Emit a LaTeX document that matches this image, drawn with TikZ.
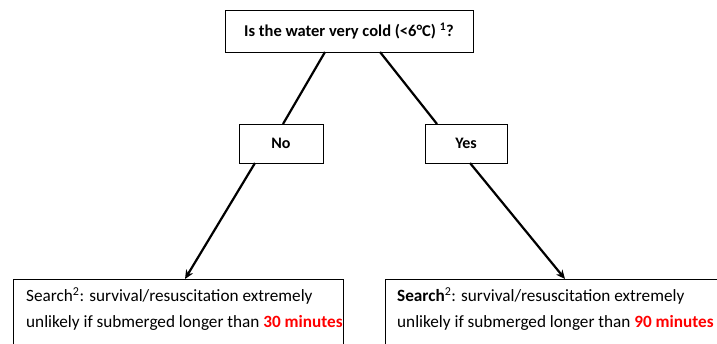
\documentclass[tikz,border=0pt]{standalone}
\usepackage{fontspec}
\setmainfont{Carlito}
\usetikzlibrary{arrows.meta}
\definecolor{hotred}{RGB}{255,0,0}
\tikzset{
  qbox/.style={draw=black, line width=0.8pt, minimum height=42pt, inner sep=0pt},
  abox/.style={draw=black, line width=0.8pt, inner sep=0pt},
  link/.style={line width=2.2pt, line cap=butt},
  arrowlink/.style={link, -{Stealth[length=9pt,width=8pt]}},
  btext/.style={align=left, anchor=north west, inner sep=0pt, font=\fontsize{17.2}{26}\selectfont}
}
\begin{document}
\begin{tikzpicture}[x=1pt,y=-1pt]
\useasboundingbox (0,0) rectangle (717,343);
\fill[white] (0,0) rectangle (717,343);
% boxes
\node[qbox, minimum width=248pt, font=\bfseries\fontsize{16.5}{18}\selectfont] (q) at (349,31) {Is the water very cold (<6°C) \textsuperscript{1}?};
\node[abox, minimum width=84pt, minimum height=39pt, font=\bfseries\fontsize{16}{18}\selectfont] (no) at (281,143.5) {No};
\node[abox, minimum width=82pt, minimum height=39pt, font=\bfseries\fontsize{16}{18}\selectfont] (yes) at (466,143.5) {Yes};
\draw[line width=0.8pt] (13,360) -- (13,279) -- (343,279) -- (343,360);
\draw[line width=0.8pt] (385,360) -- (385,279) -- (730,279);
\coordinate (lt) at (185,279);
\coordinate (rt) at (565,279);
\node[btext] (lefttxt) at (26,287) {Search\textsuperscript{2}: survival/resuscitation extremely\\unlikely if submerged longer than \textcolor{hotred}{\textbf{30 minutes}}};
\node[btext] (righttxt) at (397,287) {\textbf{Search}\textsuperscript{2}: survival/resuscitation extremely\\unlikely if submerged longer than \textcolor{hotred}{\textbf{90 minutes}}};
% connectors
\draw[link] (325,52) -- (283,124);
\draw[link] (380,52) -- (437,124);
\draw[arrowlink] (255,163) -- (lt);
\draw[arrowlink] (470,163) -- (rt);
\end{tikzpicture}
\end{document}
